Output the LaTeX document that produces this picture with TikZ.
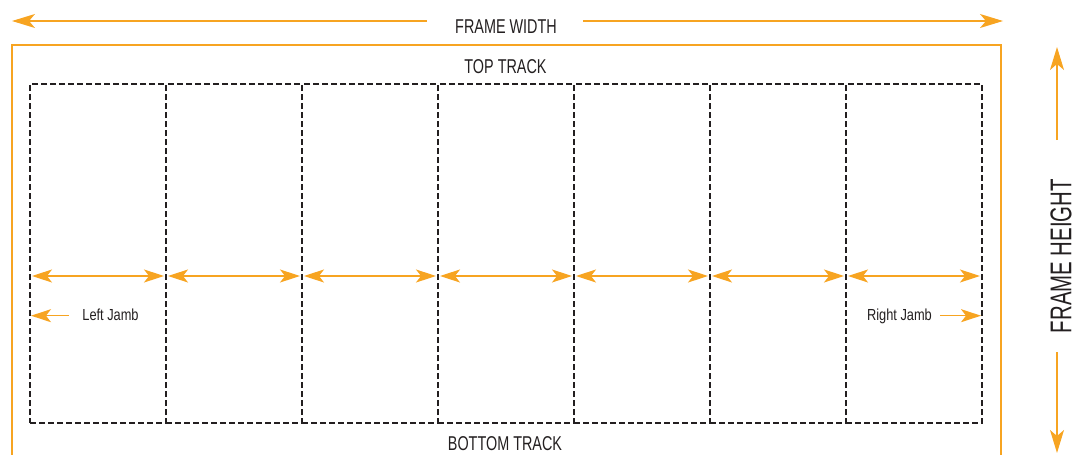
\documentclass[tikz,border=0pt]{standalone}
\usepackage{fontspec}
\setmainfont{Liberation Sans}
\newfontfamily\condA[FakeStretch=0.72]{Liberation Sans}
\newfontfamily\condB[FakeStretch=0.8]{Liberation Sans}
\newfontfamily\condC[FakeStretch=0.68]{Liberation Sans}
\usetikzlibrary{arrows.meta}
\definecolor{org}{RGB}{247,164,33}
\definecolor{ink}{RGB}{35,31,32}
\tikzset{
  panel/.style={draw=ink, dash pattern=on 6pt off 3pt, line width=2pt,
    minimum width=136pt, minimum height=339pt, inner sep=0pt, outer sep=0pt},
  harrow/.style={draw=org, line width=1.3pt,
    {Stealth[length=20pt,width=13pt,inset=5pt]}-{Stealth[length=20pt,width=13pt,inset=5pt]}},
  sarrow/.style={draw=org, line width=1.3pt, -{Stealth[length=20pt,width=13pt,inset=5pt]}},
  barrow/.style={draw=org, line width=1.3pt, -{Stealth[length=23pt,width=14pt,inset=6pt]}},
  bigtxt/.style={text=ink, font=\condA\fontsize{20}{20}\selectfont, inner sep=0pt, anchor=base},
  smalltxt/.style={text=ink, font=\condB\fontsize{16}{16}\selectfont, inner sep=0pt, anchor=base},
  vtxt/.style={text=ink, font=\condC\fontsize{30}{30}\selectfont, inner sep=0pt, rotate=90},
}
\begin{document}
\begin{tikzpicture}[x=1pt,y=-1pt]
\useasboundingbox (0,0) rectangle (1076,455);
% orange frame
\draw[org, line width=1.3pt] (12,470) -- (12,45) -- (1001,45) -- (1001,470);
% panels
\foreach \i in {1,...,7} {
  \node[panel] (p\i) at ({30+136*(\i-0.5)},253.5) {};
}
\foreach \i in {1,...,7} {
  \draw[harrow] ([xshift=2pt,yshift=-22.5pt]p\i.west) -- ([xshift=-2pt,yshift=-22.5pt]p\i.east);
}
% texts
\node[bigtxt] (fw) at (506,33.3) {FRAME WIDTH};
\node[bigtxt] (tt) at (505.5,73) {TOP TRACK};
\node[bigtxt] (bt) at (505,450) {BOTTOM TRACK};
\node[smalltxt] (lj) at (110.5,320) {Left Jamb};
\node[smalltxt] (rj) at (899.5,320) {Right Jamb};
\node[vtxt] (fh) at (1061,256) {FRAME HEIGHT};
% frame width arrows
\coordinate (fwl) at (427,21);
\coordinate (fwr) at (583,21);
\coordinate (lw) at (12,21);
\coordinate (rw) at (1003,21);
\draw[barrow] (fwl) -- (lw);
\draw[barrow] (fwr) -- (rw);
% frame height arrows
\coordinate (fht) at (1057,140);
\coordinate (fhb) at (1057,352);
\coordinate (th) at (1057,47);
\coordinate (bh) at (1057,453);
\draw[barrow] (fht) -- (th);
\draw[barrow] (fhb) -- (bh);
% jamb arrows
\coordinate (ljs) at (69,315.7);
\coordinate (rjs) at (940,315.7);
\draw[sarrow] (ljs) -- ([xshift=1pt,yshift=-62.2pt]p1.west);
\draw[sarrow] (rjs) -- ([xshift=-1pt,yshift=-62.2pt]p7.east);
\end{tikzpicture}
\end{document}
